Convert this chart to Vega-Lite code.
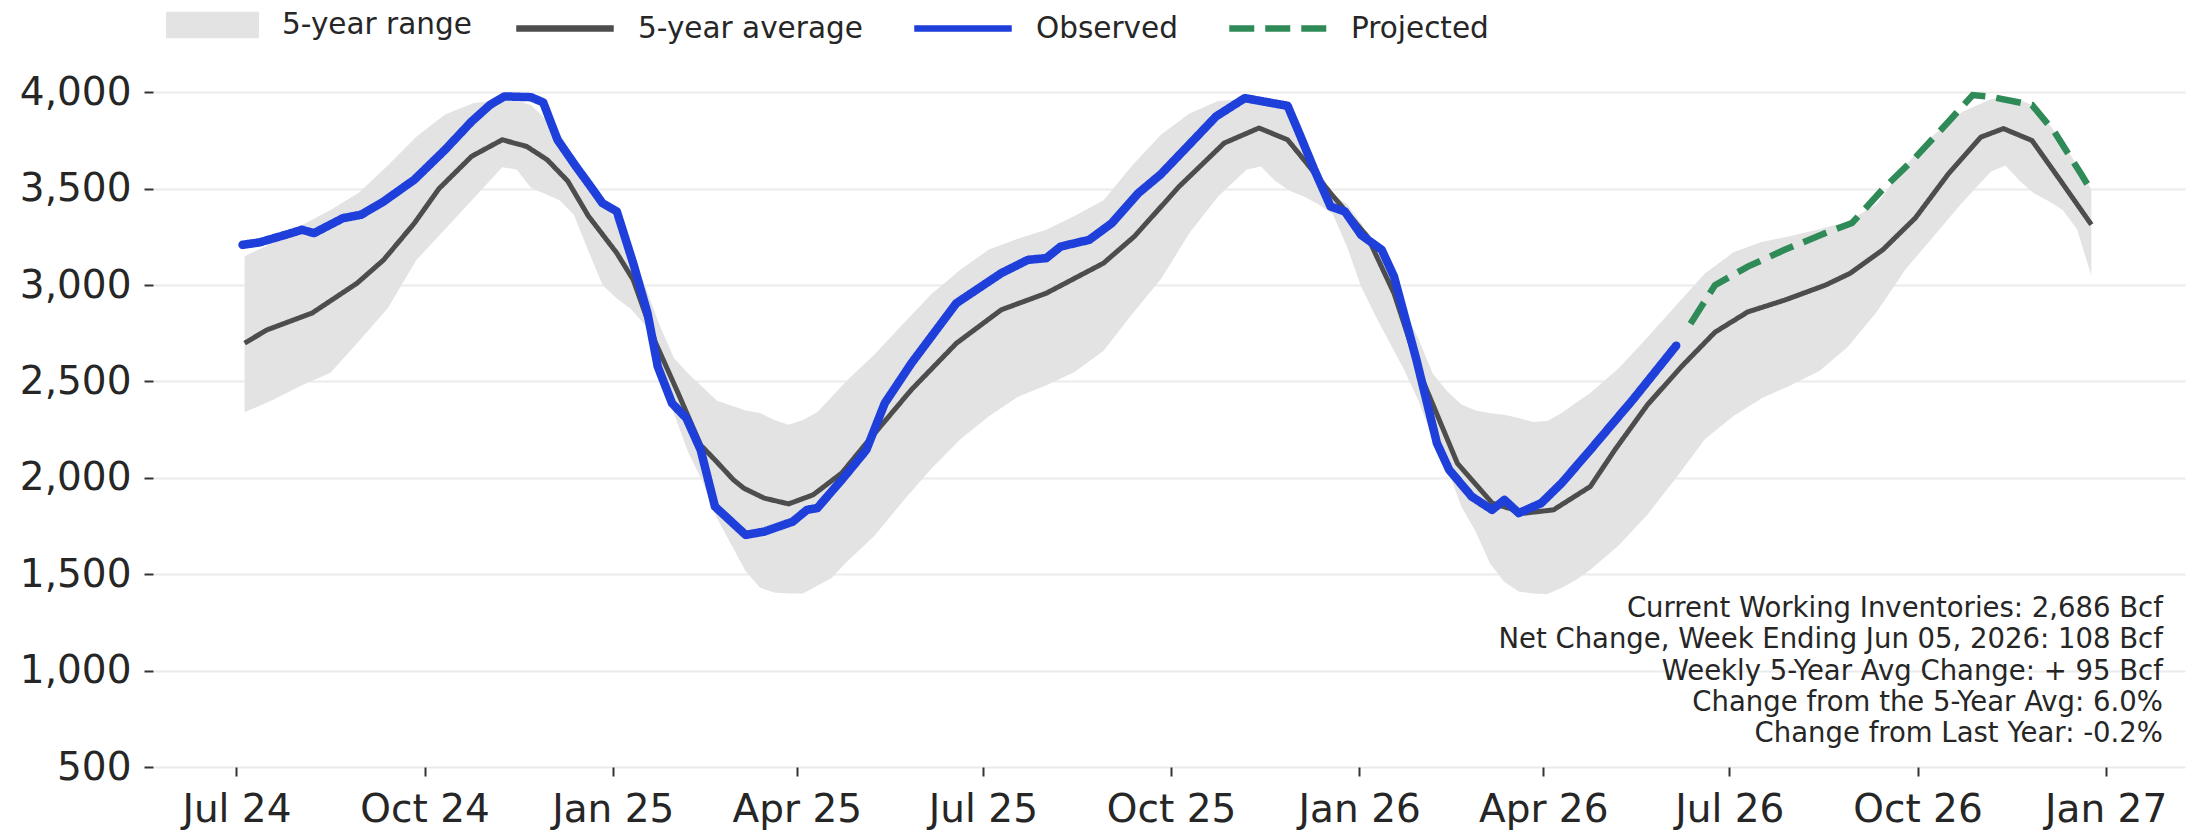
{
  "$schema": "https://vega.github.io/schema/vega-lite/v6.json",
  "width": 2032,
  "height": 697,
  "autosize": {"type": "none"},
  "padding": {"left": 153, "top": 70, "right": 14, "bottom": 64},
  "background": "white",
  "config": {
    "view": {"stroke": null},
    "font": "DejaVu Sans",
    "axis": {"domain": false, "labelFont": "DejaVu Sans", "labelColor": "#262626", "tickColor": "#333333", "tickWidth": 2, "tickSize": 9, "title": null},
    "legend": {"labelFont": "DejaVu Sans", "labelFontSize": 29.5, "labelColor": "#262626", "labelLimit": 600, "padding": 0, "title": null}
  },
  "datasets": {
    "range": [
      {"d": "2024-07-05", "lo": 2340, "hi": 3150},
      {"d": "2024-07-19", "lo": 2405, "hi": 3220},
      {"d": "2024-08-02", "lo": 2480, "hi": 3310},
      {"d": "2024-08-16", "lo": 2545, "hi": 3390},
      {"d": "2024-08-30", "lo": 2710, "hi": 3480},
      {"d": "2024-09-13", "lo": 2880, "hi": 3620},
      {"d": "2024-09-27", "lo": 3130, "hi": 3770},
      {"d": "2024-10-11", "lo": 3290, "hi": 3885},
      {"d": "2024-10-25", "lo": 3450, "hi": 3945},
      {"d": "2024-11-08", "lo": 3612, "hi": 3962},
      {"d": "2024-11-15", "lo": 3600, "hi": 3958},
      {"d": "2024-11-22", "lo": 3505, "hi": 3935},
      {"d": "2024-12-06", "lo": 3440, "hi": 3790},
      {"d": "2024-12-13", "lo": 3365, "hi": 3660},
      {"d": "2024-12-20", "lo": 3180, "hi": 3540},
      {"d": "2024-12-27", "lo": 3000, "hi": 3430},
      {"d": "2025-01-03", "lo": 2930, "hi": 3330},
      {"d": "2025-01-10", "lo": 2875, "hi": 3180},
      {"d": "2025-01-17", "lo": 2790, "hi": 2990},
      {"d": "2025-01-24", "lo": 2580, "hi": 2790},
      {"d": "2025-01-31", "lo": 2330, "hi": 2620},
      {"d": "2025-02-07", "lo": 2130, "hi": 2540},
      {"d": "2025-02-14", "lo": 1980, "hi": 2470},
      {"d": "2025-02-21", "lo": 1790, "hi": 2400},
      {"d": "2025-03-07", "lo": 1515, "hi": 2350},
      {"d": "2025-03-14", "lo": 1430, "hi": 2336},
      {"d": "2025-03-21", "lo": 1405, "hi": 2300},
      {"d": "2025-03-28", "lo": 1400, "hi": 2275},
      {"d": "2025-04-04", "lo": 1400, "hi": 2300},
      {"d": "2025-04-11", "lo": 1440, "hi": 2340},
      {"d": "2025-04-18", "lo": 1480, "hi": 2420},
      {"d": "2025-04-25", "lo": 1560, "hi": 2500},
      {"d": "2025-05-09", "lo": 1700, "hi": 2640},
      {"d": "2025-05-23", "lo": 1880, "hi": 2800},
      {"d": "2025-06-06", "lo": 2050, "hi": 2955},
      {"d": "2025-06-20", "lo": 2200, "hi": 3080},
      {"d": "2025-07-04", "lo": 2320, "hi": 3185},
      {"d": "2025-07-18", "lo": 2420, "hi": 3240},
      {"d": "2025-08-01", "lo": 2480, "hi": 3287},
      {"d": "2025-08-15", "lo": 2550, "hi": 3360},
      {"d": "2025-08-29", "lo": 2660, "hi": 3440},
      {"d": "2025-09-12", "lo": 2850, "hi": 3620},
      {"d": "2025-09-26", "lo": 3030, "hi": 3780},
      {"d": "2025-10-10", "lo": 3270, "hi": 3890},
      {"d": "2025-10-24", "lo": 3460, "hi": 3955},
      {"d": "2025-11-07", "lo": 3600, "hi": 3965},
      {"d": "2025-11-14", "lo": 3615, "hi": 3962},
      {"d": "2025-11-21", "lo": 3540, "hi": 3950},
      {"d": "2025-11-28", "lo": 3490, "hi": 3940},
      {"d": "2025-12-05", "lo": 3460, "hi": 3780},
      {"d": "2025-12-12", "lo": 3420, "hi": 3600},
      {"d": "2025-12-19", "lo": 3370, "hi": 3470},
      {"d": "2025-12-26", "lo": 3200, "hi": 3420},
      {"d": "2026-01-02", "lo": 2990, "hi": 3320},
      {"d": "2026-01-09", "lo": 2840, "hi": 3180},
      {"d": "2026-01-16", "lo": 2700, "hi": 3080},
      {"d": "2026-01-23", "lo": 2560, "hi": 2870},
      {"d": "2026-01-30", "lo": 2400, "hi": 2720},
      {"d": "2026-02-06", "lo": 2200, "hi": 2540},
      {"d": "2026-02-13", "lo": 2050, "hi": 2450},
      {"d": "2026-02-20", "lo": 1850, "hi": 2380},
      {"d": "2026-02-27", "lo": 1720, "hi": 2350},
      {"d": "2026-03-06", "lo": 1555, "hi": 2335},
      {"d": "2026-03-13", "lo": 1460, "hi": 2327},
      {"d": "2026-03-20", "lo": 1410, "hi": 2310},
      {"d": "2026-03-27", "lo": 1400, "hi": 2290},
      {"d": "2026-04-03", "lo": 1398, "hi": 2295},
      {"d": "2026-04-10", "lo": 1430, "hi": 2336},
      {"d": "2026-04-17", "lo": 1470, "hi": 2390},
      {"d": "2026-04-24", "lo": 1523, "hi": 2440},
      {"d": "2026-05-08", "lo": 1650, "hi": 2570},
      {"d": "2026-05-22", "lo": 1810, "hi": 2730},
      {"d": "2026-06-05", "lo": 2000, "hi": 2895},
      {"d": "2026-06-19", "lo": 2200, "hi": 3060},
      {"d": "2026-07-03", "lo": 2321, "hi": 3170},
      {"d": "2026-07-17", "lo": 2415, "hi": 3225},
      {"d": "2026-07-31", "lo": 2480, "hi": 3255},
      {"d": "2026-08-14", "lo": 2555, "hi": 3290},
      {"d": "2026-08-28", "lo": 2680, "hi": 3330},
      {"d": "2026-09-11", "lo": 2860, "hi": 3420},
      {"d": "2026-09-25", "lo": 3080, "hi": 3620},
      {"d": "2026-10-09", "lo": 3255, "hi": 3780},
      {"d": "2026-10-23", "lo": 3430, "hi": 3900},
      {"d": "2026-11-06", "lo": 3590, "hi": 3965},
      {"d": "2026-11-13", "lo": 3620, "hi": 3977},
      {"d": "2026-11-20", "lo": 3540, "hi": 3960},
      {"d": "2026-11-27", "lo": 3475, "hi": 3930},
      {"d": "2026-12-04", "lo": 3436, "hi": 3840},
      {"d": "2026-12-11", "lo": 3390, "hi": 3740},
      {"d": "2026-12-18", "lo": 3290, "hi": 3620},
      {"d": "2026-12-25", "lo": 3050, "hi": 3497}
    ],
    "lines": [
      {"s": "5-year average", "d": "2024-07-05", "v": 2699},
      {"s": "5-year average", "d": "2024-07-16", "v": 2768},
      {"s": "5-year average", "d": "2024-08-07", "v": 2855},
      {"s": "5-year average", "d": "2024-08-29", "v": 3010},
      {"s": "5-year average", "d": "2024-09-11", "v": 3131},
      {"s": "5-year average", "d": "2024-09-26", "v": 3321},
      {"s": "5-year average", "d": "2024-10-08", "v": 3500},
      {"s": "5-year average", "d": "2024-10-24", "v": 3668},
      {"s": "5-year average", "d": "2024-11-08", "v": 3754},
      {"s": "5-year average", "d": "2024-11-20", "v": 3719},
      {"s": "5-year average", "d": "2024-11-30", "v": 3650},
      {"s": "5-year average", "d": "2024-12-10", "v": 3540},
      {"s": "5-year average", "d": "2024-12-20", "v": 3360},
      {"s": "5-year average", "d": "2025-01-03", "v": 3166},
      {"s": "5-year average", "d": "2025-01-11", "v": 3028},
      {"s": "5-year average", "d": "2025-01-22", "v": 2700},
      {"s": "5-year average", "d": "2025-02-02", "v": 2439},
      {"s": "5-year average", "d": "2025-02-13", "v": 2170},
      {"s": "5-year average", "d": "2025-02-20", "v": 2093},
      {"s": "5-year average", "d": "2025-03-01", "v": 1990},
      {"s": "5-year average", "d": "2025-03-06", "v": 1947},
      {"s": "5-year average", "d": "2025-03-16", "v": 1895},
      {"s": "5-year average", "d": "2025-03-28", "v": 1865},
      {"s": "5-year average", "d": "2025-04-09", "v": 1912},
      {"s": "5-year average", "d": "2025-04-23", "v": 2025},
      {"s": "5-year average", "d": "2025-05-05", "v": 2180},
      {"s": "5-year average", "d": "2025-05-27", "v": 2457},
      {"s": "5-year average", "d": "2025-06-18", "v": 2698},
      {"s": "5-year average", "d": "2025-07-10", "v": 2872},
      {"s": "5-year average", "d": "2025-08-01", "v": 2958},
      {"s": "5-year average", "d": "2025-08-29", "v": 3114},
      {"s": "5-year average", "d": "2025-09-13", "v": 3252},
      {"s": "5-year average", "d": "2025-10-05", "v": 3512},
      {"s": "5-year average", "d": "2025-10-27", "v": 3737},
      {"s": "5-year average", "d": "2025-11-13", "v": 3815},
      {"s": "5-year average", "d": "2025-11-27", "v": 3754},
      {"s": "5-year average", "d": "2025-12-05", "v": 3650},
      {"s": "5-year average", "d": "2025-12-18", "v": 3477},
      {"s": "5-year average", "d": "2026-01-05", "v": 3252},
      {"s": "5-year average", "d": "2026-01-18", "v": 2958},
      {"s": "5-year average", "d": "2026-02-01", "v": 2508},
      {"s": "5-year average", "d": "2026-02-18", "v": 2076},
      {"s": "5-year average", "d": "2026-03-07", "v": 1869},
      {"s": "5-year average", "d": "2026-03-23", "v": 1817},
      {"s": "5-year average", "d": "2026-04-06", "v": 1834},
      {"s": "5-year average", "d": "2026-04-24", "v": 1955},
      {"s": "5-year average", "d": "2026-05-06", "v": 2145},
      {"s": "5-year average", "d": "2026-05-22", "v": 2380},
      {"s": "5-year average", "d": "2026-06-08", "v": 2582},
      {"s": "5-year average", "d": "2026-06-24", "v": 2756},
      {"s": "5-year average", "d": "2026-07-10", "v": 2861},
      {"s": "5-year average", "d": "2026-07-28", "v": 2922},
      {"s": "5-year average", "d": "2026-08-17", "v": 3000},
      {"s": "5-year average", "d": "2026-08-29", "v": 3061},
      {"s": "5-year average", "d": "2026-09-14", "v": 3183},
      {"s": "5-year average", "d": "2026-09-30", "v": 3349},
      {"s": "5-year average", "d": "2026-10-16", "v": 3576},
      {"s": "5-year average", "d": "2026-11-01", "v": 3768},
      {"s": "5-year average", "d": "2026-11-12", "v": 3812},
      {"s": "5-year average", "d": "2026-11-26", "v": 3750},
      {"s": "5-year average", "d": "2026-12-10", "v": 3541},
      {"s": "5-year average", "d": "2026-12-25", "v": 3314},
      {"s": "Observed", "d": "2024-07-04", "v": 3209},
      {"s": "Observed", "d": "2024-07-12", "v": 3221},
      {"s": "Observed", "d": "2024-07-25", "v": 3261},
      {"s": "Observed", "d": "2024-08-02", "v": 3287},
      {"s": "Observed", "d": "2024-08-08", "v": 3270},
      {"s": "Observed", "d": "2024-08-22", "v": 3347},
      {"s": "Observed", "d": "2024-08-31", "v": 3365},
      {"s": "Observed", "d": "2024-09-11", "v": 3434},
      {"s": "Observed", "d": "2024-09-26", "v": 3547},
      {"s": "Observed", "d": "2024-10-11", "v": 3702},
      {"s": "Observed", "d": "2024-10-24", "v": 3849},
      {"s": "Observed", "d": "2024-11-02", "v": 3935},
      {"s": "Observed", "d": "2024-11-09", "v": 3979},
      {"s": "Observed", "d": "2024-11-22", "v": 3975},
      {"s": "Observed", "d": "2024-11-28", "v": 3948},
      {"s": "Observed", "d": "2024-12-05", "v": 3754},
      {"s": "Observed", "d": "2024-12-14", "v": 3616},
      {"s": "Observed", "d": "2024-12-20", "v": 3529},
      {"s": "Observed", "d": "2024-12-27", "v": 3425},
      {"s": "Observed", "d": "2025-01-03", "v": 3382},
      {"s": "Observed", "d": "2025-01-11", "v": 3114},
      {"s": "Observed", "d": "2025-01-18", "v": 2855},
      {"s": "Observed", "d": "2025-01-23", "v": 2578},
      {"s": "Observed", "d": "2025-01-30", "v": 2387},
      {"s": "Observed", "d": "2025-02-06", "v": 2310},
      {"s": "Observed", "d": "2025-02-13", "v": 2145},
      {"s": "Observed", "d": "2025-02-20", "v": 1851},
      {"s": "Observed", "d": "2025-03-07", "v": 1704},
      {"s": "Observed", "d": "2025-03-16", "v": 1721},
      {"s": "Observed", "d": "2025-03-30", "v": 1773},
      {"s": "Observed", "d": "2025-04-06", "v": 1834},
      {"s": "Observed", "d": "2025-04-11", "v": 1843},
      {"s": "Observed", "d": "2025-04-23", "v": 1990},
      {"s": "Observed", "d": "2025-05-05", "v": 2145},
      {"s": "Observed", "d": "2025-05-14", "v": 2387},
      {"s": "Observed", "d": "2025-05-27", "v": 2594},
      {"s": "Observed", "d": "2025-06-18", "v": 2906},
      {"s": "Observed", "d": "2025-07-10", "v": 3062},
      {"s": "Observed", "d": "2025-07-23", "v": 3131},
      {"s": "Observed", "d": "2025-08-01", "v": 3140},
      {"s": "Observed", "d": "2025-08-08", "v": 3200},
      {"s": "Observed", "d": "2025-08-22", "v": 3235},
      {"s": "Observed", "d": "2025-09-02", "v": 3321},
      {"s": "Observed", "d": "2025-09-15", "v": 3477},
      {"s": "Observed", "d": "2025-09-26", "v": 3575},
      {"s": "Observed", "d": "2025-10-09", "v": 3719},
      {"s": "Observed", "d": "2025-10-23", "v": 3875},
      {"s": "Observed", "d": "2025-11-06", "v": 3970},
      {"s": "Observed", "d": "2025-11-27", "v": 3930},
      {"s": "Observed", "d": "2025-12-03", "v": 3780},
      {"s": "Observed", "d": "2025-12-10", "v": 3600},
      {"s": "Observed", "d": "2025-12-18", "v": 3408},
      {"s": "Observed", "d": "2025-12-25", "v": 3382},
      {"s": "Observed", "d": "2026-01-02", "v": 3260},
      {"s": "Observed", "d": "2026-01-12", "v": 3183},
      {"s": "Observed", "d": "2026-01-18", "v": 3045},
      {"s": "Observed", "d": "2026-01-29", "v": 2612},
      {"s": "Observed", "d": "2026-02-08", "v": 2180},
      {"s": "Observed", "d": "2026-02-14", "v": 2042},
      {"s": "Observed", "d": "2026-02-25", "v": 1903},
      {"s": "Observed", "d": "2026-03-07", "v": 1834},
      {"s": "Observed", "d": "2026-03-13", "v": 1886},
      {"s": "Observed", "d": "2026-03-20", "v": 1817},
      {"s": "Observed", "d": "2026-03-31", "v": 1869},
      {"s": "Observed", "d": "2026-04-10", "v": 1973},
      {"s": "Observed", "d": "2026-04-24", "v": 2145},
      {"s": "Observed", "d": "2026-05-15", "v": 2408},
      {"s": "Observed", "d": "2026-06-05", "v": 2686},
      {"s": "Projected", "d": "2026-06-12", "v": 2800},
      {"s": "Projected", "d": "2026-06-24", "v": 3000},
      {"s": "Projected", "d": "2026-07-10", "v": 3096},
      {"s": "Projected", "d": "2026-07-28", "v": 3183},
      {"s": "Projected", "d": "2026-08-17", "v": 3270},
      {"s": "Projected", "d": "2026-08-30", "v": 3322},
      {"s": "Projected", "d": "2026-09-14", "v": 3497},
      {"s": "Projected", "d": "2026-09-30", "v": 3663},
      {"s": "Projected", "d": "2026-10-16", "v": 3846},
      {"s": "Projected", "d": "2026-10-28", "v": 3986},
      {"s": "Projected", "d": "2026-11-06", "v": 3977},
      {"s": "Projected", "d": "2026-11-26", "v": 3934},
      {"s": "Projected", "d": "2026-12-07", "v": 3794},
      {"s": "Projected", "d": "2026-12-20", "v": 3576},
      {"s": "Projected", "d": "2026-12-25", "v": 3489}
    ]
  },
  "layer": [
    {
      "data": {"name": "range"},
      "mark": {"type": "area", "opacity": 1},
      "encoding": {
        "x": {
          "field": "d", "type": "temporal",
          "scale": {"type": "utc", "domain": [{"year": 2024, "month": 5, "date": 21, "hours": 5, "utc": true}, {"year": 2027, "month": 2, "date": 8, "hours": 19, "utc": true}]},
          "axis": {
            "grid": false, "format": "%b %y", "labelFontSize": 39, "labelPadding": 14,
            "values": [
              {"year": 2024, "month": 7, "date": 1, "utc": true},
              {"year": 2024, "month": 10, "date": 1, "utc": true},
              {"year": 2025, "month": 1, "date": 1, "utc": true},
              {"year": 2025, "month": 4, "date": 1, "utc": true},
              {"year": 2025, "month": 7, "date": 1, "utc": true},
              {"year": 2025, "month": 10, "date": 1, "utc": true},
              {"year": 2026, "month": 1, "date": 1, "utc": true},
              {"year": 2026, "month": 4, "date": 1, "utc": true},
              {"year": 2026, "month": 7, "date": 1, "utc": true},
              {"year": 2026, "month": 10, "date": 1, "utc": true},
              {"year": 2027, "month": 1, "date": 1, "utc": true}
            ]
          }
        },
        "y": {
          "field": "lo", "type": "quantitative",
          "scale": {"domain": [500, 4116], "nice": false, "zero": false},
          "axis": {
            "values": [500, 1000, 1500, 2000, 2500, 3000, 3500, 4000], "format": ",d",
            "labelFontSize": 39, "labelPadding": 13, "grid": true, "gridColor": "#ebebeb", "gridWidth": 2
          }
        },
        "y2": {"field": "hi"},
        "fill": {
          "datum": "5-year range", "type": "nominal",
          "scale": {"domain": ["5-year range"], "range": ["#e3e3e3"]},
          "legend": {
            "orient": "none", "legendX": 44.5, "legendY": -60, "direction": "horizontal",
            "symbolSize": 900, "symbolType": "M-3.1,-0.89H3.1V0.89H-3.1Z", "symbolStrokeWidth": 0, "symbolFillColor": "#e3e3e3",
            "labelOffset": 54.5
          }
        }
      }
    },
    {
      "data": {"name": "lines"},
      "transform": [{"filter": "datum.s === '5-year average'"}],
      "mark": {"type": "line", "strokeWidth": 5, "strokeCap": "butt", "strokeJoin": "round"},
      "encoding": {
        "x": {"field": "d", "type": "temporal"},
        "y": {"field": "v", "type": "quantitative"},
        "stroke": {
          "field": "s", "type": "nominal",
          "scale": {"domain": ["5-year average", "Observed", "Projected"], "range": ["#4d4d4d", "#1f3fdb", "#2e8b57"]},
          "legend": {
            "orient": "none", "legendX": 393.5, "legendY": -60, "direction": "horizontal",
            "symbolSize": 900, "symbolType": "M-3.25,0H3.25", "symbolStrokeWidth": 6.5,
            "labelOffset": 54.5, "columnPadding": 37
          }
        },
        "strokeDash": {
          "field": "s", "type": "nominal",
          "scale": {"domain": ["5-year average", "Observed", "Projected"], "range": [[1, 0], [1, 0], [25, 11]]},
          "legend": {
            "orient": "none", "legendX": 393.5, "legendY": -60, "direction": "horizontal",
            "symbolSize": 900, "symbolType": "M-3.25,0H3.25", "symbolStrokeWidth": 6.5,
            "labelOffset": 54.5, "columnPadding": 37
          }
        }
      }
    },
    {
      "data": {"name": "lines"},
      "transform": [{"filter": "datum.s === 'Observed'"}],
      "mark": {"type": "line", "strokeWidth": 8.5, "strokeCap": "round", "strokeJoin": "round"},
      "encoding": {
        "x": {"field": "d", "type": "temporal"},
        "y": {"field": "v", "type": "quantitative"},
        "stroke": {"field": "s", "type": "nominal"},
        "strokeDash": {"field": "s", "type": "nominal"}
      }
    },
    {
      "data": {"name": "lines"},
      "transform": [{"filter": "datum.s === 'Projected'"}],
      "mark": {"type": "line", "strokeWidth": 6.5},
      "encoding": {
        "x": {"field": "d", "type": "temporal"},
        "y": {"field": "v", "type": "quantitative"},
        "stroke": {"field": "s", "type": "nominal"},
        "strokeDash": {"field": "s", "type": "nominal"}
      }
    },
    {
      "data": {"values": [{}]},
      "mark": {
        "type": "text", "align": "right", "baseline": "alphabetic", "font": "DejaVu Sans", "fontSize": 27.5, "lineHeight": 31.3, "color": "#262626",
        "text": ["Current Working Inventories: 2,686 Bcf", "Net Change, Week Ending Jun 05, 2026: 108 Bcf", "Weekly 5-Year Avg Change: + 95 Bcf", "Change from the 5-Year Avg: 6.0%", "Change from Last Year: -0.2%"]
      },
      "encoding": {
        "x": {"datum": {"year": 2027, "month": 1, "date": 29, "utc": true}, "type": "temporal"},
        "y": {"datum": 1278, "type": "quantitative"}
      }
    }
  ]
}
